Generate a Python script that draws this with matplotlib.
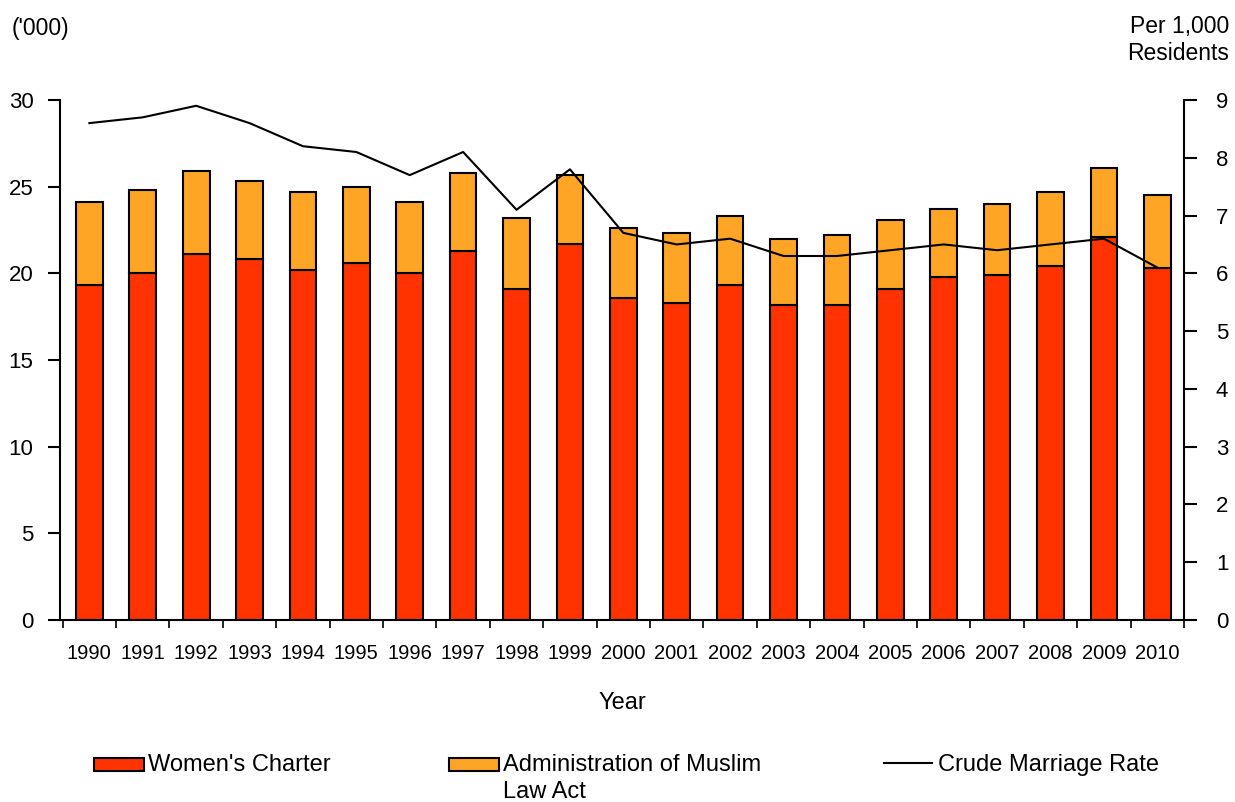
import matplotlib
matplotlib.use("Agg")
import matplotlib.pyplot as plt
from matplotlib.patches import Rectangle
from matplotlib.lines import Line2D
import numpy as np

plt.rcParams['font.family'] = ['Liberation Sans', 'DejaVu Sans']

years = [str(y) for y in range(1990, 2011)]
womens_charter = [19.3, 20.0, 21.1, 20.8, 20.2, 20.6, 20.0, 21.3, 19.1, 21.7, 18.6,
                  18.3, 19.3, 18.2, 18.2, 19.1, 19.8, 19.9, 20.4, 22.1, 20.3]
total = [24.1, 24.8, 25.9, 25.3, 24.7, 25.0, 24.1, 25.8, 23.2, 25.7, 22.6,
         22.3, 23.3, 22.0, 22.2, 23.1, 23.7, 24.0, 24.7, 26.1, 24.5]
muslim = [t - w for t, w in zip(total, womens_charter)]
crude_rate = [8.6, 8.7, 8.9, 8.6, 8.2, 8.1, 7.7, 8.1, 7.1, 7.8, 6.7,
              6.5, 6.6, 6.3, 6.3, 6.4, 6.5, 6.4, 6.5, 6.6, 6.1]
legend_labels = ["Women's Charter", "Administration of Muslim\nLaw Act", "Crude Marriage Rate"]

red = '#FF3300'
orange = '#FFA526'
W, H = 1235, 802

fig = plt.figure(figsize=(12.35, 8.02), dpi=100)
ax = fig.add_axes([60/W, 1 - 620/H, (1184-60)/W, (620-100)/H])
x = np.arange(len(years))
ax.bar(x, womens_charter, width=0.5, color=red, edgecolor='black', linewidth=1.5, zorder=2)
ax.bar(x, muslim, width=0.5, bottom=womens_charter, color=orange, edgecolor='black', linewidth=1.5, zorder=2)
ax.set_xlim(-0.55, 20.5)
ax.set_ylim(0, 30)
ax.set_yticks(range(0, 31, 5))
ax.set_xticks(x)
ax.set_xticklabels(years, fontsize=14.5)
ax.set_xticks(np.arange(-0.5, 20.6, 1), minor=True)
ax.tick_params(axis='x', which='major', length=0, pad=17)
ax.tick_params(axis='x', which='minor', length=6, width=1.2, direction='out')
ax.tick_params(axis='y', length=9, width=1.5, direction='out', labelsize=16, pad=10)
for s in ['top', 'right']:
    ax.spines[s].set_visible(False)
for s in ['left', 'bottom']:
    ax.spines[s].set_linewidth(1.5)

ax2 = ax.twinx()
ax2.plot(x, crude_rate, color='black', linewidth=1.5)
ax2.set_ylim(0, 9)
ax2.set_yticks(range(0, 10))
ax2.tick_params(axis='y', length=9, width=1.5, direction='out', labelsize=16, pad=14)
for s in ['top', 'left', 'bottom']:
    ax2.spines[s].set_visible(False)
ax2.spines['right'].set_linewidth(1.5)

fig.text(12/W, 1 - 28/H, "('000)", fontsize=16.5, ha='left', va='center')
fig.text(1229/W, 1 - 40/H, "Per 1,000\nResidents", fontsize=16.5, ha='right', va='center',
         linespacing=1.25)
fig.text(622/W, 1 - 703/H, "Year", fontsize=17, ha='center', va='center')

# legend (drawn manually to keep reference alignment)
ly = 1 - 765/H
fig.add_artist(Rectangle((94/W, 1 - 771/H), 50/W, 13/H, transform=fig.transFigure,
                         facecolor=red, edgecolor='black', linewidth=1.5))
fig.add_artist(Rectangle((449/W, 1 - 771/H), 50/W, 13/H, transform=fig.transFigure,
                         facecolor=orange, edgecolor='black', linewidth=1.5))
fig.add_artist(Line2D([884/W, 932/W], [1 - 763/H, 1 - 763/H], transform=fig.transFigure,
                      color='black', linewidth=1.5))
fig.text(148/W, ly, legend_labels[0], fontsize=17, ha='left', va='center')
fig.text(503/W, 1 - 754/H, legend_labels[1], fontsize=17, ha='left', va='top', linespacing=1.3)
fig.text(938/W, ly, legend_labels[2], fontsize=17, ha='left', va='center')

fig.savefig('out.png', dpi=100)
